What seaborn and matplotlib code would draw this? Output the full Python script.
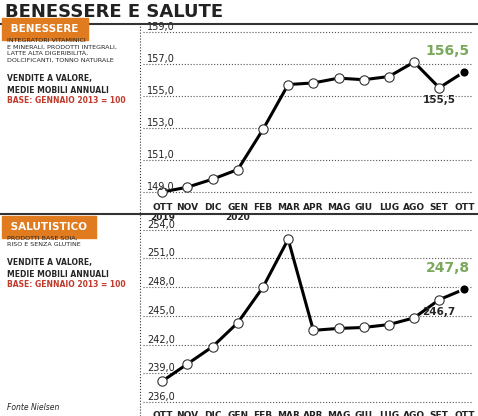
import matplotlib
matplotlib.use("Agg")
import matplotlib.pyplot as plt
import matplotlib.transforms as mtrans
import seaborn as sns
import pandas as pd

months = ["OTT\n2019","NOV","DIC","GEN\n2020","FEB","MAR","APR","MAG","GIU","LUG","AGO","SET","OTT"]
benessere = [149.0,149.3,149.8,150.4,152.9,155.7,155.8,156.1,156.0,156.2,157.1,155.5,156.5]
salutistico = [238.2,240.0,241.8,244.3,248.0,253.0,243.5,243.7,243.8,244.1,244.8,246.7,247.8]
ticks_b = [149.0,151.0,153.0,155.0,157.0,159.0]
ticks_s = [236.0,239.0,242.0,245.0,248.0,251.0,254.0]

sns.set_style("white")
plt.rcParams['font.family'] = ['DejaVu Sans']
W,H = 478,416
fig = plt.figure(figsize=(W/100,H/100), dpi=100)
def fy(py): return 1-py/H
fig.text(0.01,fy(12),"BENESSERE E SALUTE",fontsize=13,fontweight='bold',va='center',color='#222')
ORANGE="#e07b1f"; GREEN="#7aa95c"

def panel(rect, vals, ticks, title, desc, lo, hi, py0, pyv):
    ax = fig.add_axes(rect)
    df = pd.DataFrame({"x":range(len(vals)),"y":vals})
    sns.lineplot(data=df,x="x",y="y",ax=ax,color='black',lw=2.2)
    ax.scatter(df.x[:-1],df.y[:-1],s=45,facecolor='white',edgecolor='#333',lw=0.8,zorder=3)
    ax.scatter(df.x.iloc[-1:],df.y.iloc[-1:],s=50,facecolor='black',edgecolor='white',lw=1.2,zorder=4)
    ax.set_ylim(lo,hi); ax.set_xlim(-0.75,12.35)
    ax.set_yticks(ticks); ax.set_yticklabels([])
    ax.tick_params(axis='y',length=0)
    tr = mtrans.blended_transform_factory(ax.transAxes, ax.transData)
    for t in ticks:
        ax.text(0.012,t,f"{t:.1f}".replace('.',','),transform=tr,fontsize=7,color='#222',va='bottom',ha='left')
    ax.grid(axis='y',ls=':',color='#555',lw=0.8)
    ax.set_xticks(range(len(vals)))
    ax.set_xticklabels(months,fontsize=6.5,fontweight='bold',color='#222')
    ax.tick_params(axis='x',length=0,pad=2)
    ax.set_xlabel(""); ax.set_ylabel("")
    for s in ax.spines.values(): s.set_visible(False)
    n=len(vals)-1
    ax.annotate(f"{vals[n]:.1f}".replace('.',','),(n,vals[n]),xytext=(-12,12),textcoords='offset points',ha='center',fontsize=10,fontweight='bold',color=GREEN)
    ax.annotate(f"{vals[n-1]:.1f}".replace('.',','),(n-1,vals[n-1]),xytext=(0,-11),textcoords='offset points',ha='center',fontsize=7.5,fontweight='bold')
    fig.text(0.015,fy(py0),f" {title} ",fontsize=7.5,fontweight='bold',color='white',backgroundcolor=ORANGE,va='top')
    fig.text(0.015,fy(py0+14),desc,fontsize=4.6,va='top',linespacing=1.35)
    fig.text(0.015,fy(pyv),"VENDITE A VALORE,\nMEDIE MOBILI ANNUALI",fontsize=5.5,fontweight='bold',va='top',linespacing=1.4)
    fig.text(0.015,fy(pyv+22),"BASE: GENNAIO 2013 = 100",fontsize=5.5,fontweight='bold',color='#c0392b',va='top')
    return ax

panel([0.30,1-200/H,0.69,(200-22)/H],benessere,ticks_b,"BENESSERE",
 "INTEGRATORI VITAMINICI\nE MINERALI, PRODOTTI INTEGRALI,\nLATTE ALTA DIGERIBILITÀ,\nDOLCIFICANTI, TONNO NATURALE",148.5,159.6,24,74)
panel([0.30,1-408/H,0.69,(408-222)/H],salutistico,ticks_s,"SALUTISTICO",
 "PRODOTTI BASE SOIA,\nRISO E SENZA GLUTINE",235.4,254.8,222,258)
fig.text(0.015,fy(410),"Fonte Nielsen",fontsize=5.5,style='italic')
fig.add_artist(plt.Line2D([0.292,0.292],[0.0,fy(24)],color='#333',ls=':',lw=0.8))
fig.add_artist(plt.Line2D([0,1],[fy(214),fy(214)],color='#333',lw=1.5))
fig.add_artist(plt.Line2D([0,1],[fy(24),fy(24)],color='#333',lw=1.5))
fig.savefig("out.png",dpi=100)
